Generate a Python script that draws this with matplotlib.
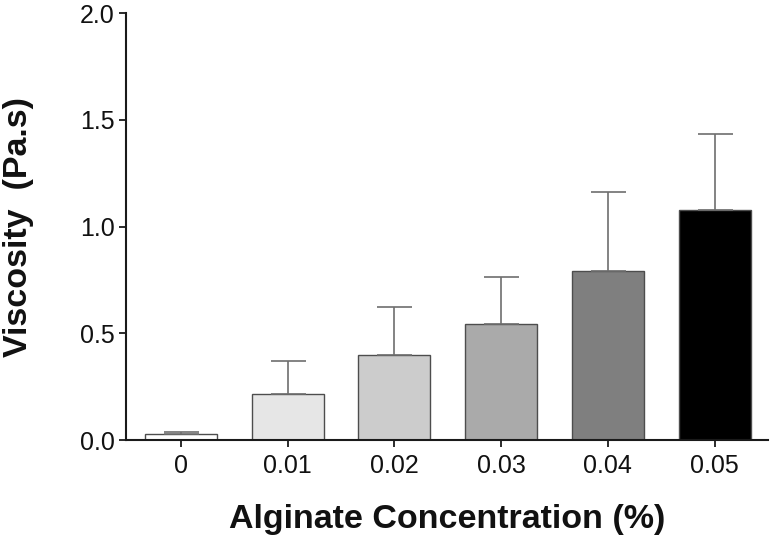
import matplotlib
matplotlib.use("Agg")
import matplotlib.pyplot as plt

categories = ["0", "0.01", "0.02", "0.03", "0.04", "0.05"]
means = [0.028, 0.216, 0.400, 0.543, 0.793, 1.080]
sd_upper = [0.008, 0.152, 0.224, 0.219, 0.368, 0.352]
colors = ["#ffffff", "#e6e6e6", "#cccccc", "#aaaaaa", "#7f7f7f", "#000000"]
yticks = [0.0, 0.5, 1.0, 1.5, 2.0]
ytick_labels = ["0.0", "0.5", "1.0", "1.5", "2.0"]

plt.rcParams['font.family'] = ['Liberation Sans', 'DejaVu Sans']

fig = plt.figure(figsize=(7.71, 5.40), dpi=100)
ax = fig.add_axes([126/771, 100/540, (768-126)/771, (440-13.3)/540])

x = list(range(len(categories)))
ax.bar(x, means, width=0.675, color=colors, edgecolor="#4d4d4d", linewidth=1.0,
       yerr=[[0]*len(sd_upper), sd_upper], capsize=12.6,
       error_kw=dict(ecolor="#6e6e6e", elinewidth=1.2, capthick=1.2), zorder=2)

ax.set_xlim(-0.515, 5.5)
ax.set_ylim(0, 2.0)
ax.set_yticks(yticks)
ax.set_yticklabels(ytick_labels)
ax.set_xticks(x)
ax.set_xticklabels(categories)

for s in ["top", "right"]:
    ax.spines[s].set_visible(False)
for s in ["left", "bottom"]:
    ax.spines[s].set_linewidth(1.5)
    ax.spines[s].set_color("#1a1a1a")

ax.tick_params(axis="both", direction="out", length=5, width=1.3, color="#1a1a1a",
               labelsize=18, labelcolor="#111111", pad=3)
ax.tick_params(axis="x", pad=5)

ax.set_xlabel("Alginate Concentration (%)", fontsize=24.5, fontweight="bold",
              color="#111111", labelpad=19)
ax.set_ylabel("Viscosity  (Pa.s)", fontsize=24.5, fontweight="bold",
              color="#111111", labelpad=33)

fig.savefig("out.png", dpi=100)
